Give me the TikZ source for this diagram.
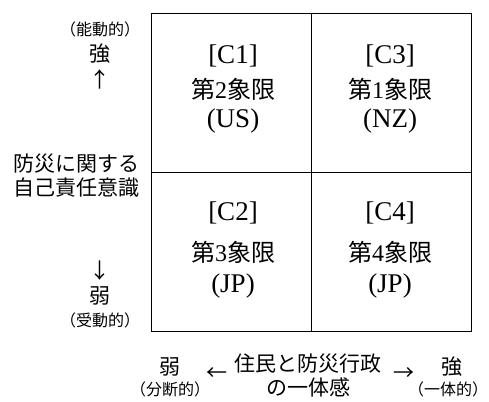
\documentclass[tikz,border=0pt]{standalone}
\usepackage{fontspec}
\setmainfont{Liberation Serif}
\newfontfamily\jp{Noto Sans CJK JP}
\tikzset{
  quad/.style={inner sep=0pt, font=\fontsize{27}{27}\selectfont},
  quadj/.style={inner sep=0pt, font=\fontsize{24}{24}\selectfont},
  lab/.style={inner sep=0pt, font=\jp\fontsize{21}{21}\selectfont},
  small/.style={inner sep=0pt, font=\jp\fontsize{16}{16}\selectfont},
  cell/.style={draw=black, line width=0.9pt, minimum width=160pt, minimum height=159pt, inner sep=0pt, outer sep=0pt}
}
\begin{document}
\begin{tikzpicture}[x=1pt,y=-1pt]
\useasboundingbox (0,0) rectangle (489,401);
% cells
\node[cell, anchor=north west] (q2) at (151,13) {};
\node[cell, anchor=north west] (q1) at (311,13) {};
\node[cell, anchor=north west] (q3) at (151,172) {};
\node[cell, anchor=north west] (q4) at (311,172) {};
% quadrant texts
\node[quad] (c1) at (233,56) {[C1]};
\node[quadj] (c1b) at (233,89) {{\jp 第}2{\jp 象限}};
\node[quad] (c1c) at (233,121) {(US)};
\node[quad] (c3) at (390,56) {[C3]};
\node[quadj] (c3b) at (390,89) {{\jp 第}1{\jp 象限}};
\node[quad] (c3c) at (390,121) {(NZ)};
\node[quad] (c2) at (233,213) {[C2]};
\node[quadj] (c2b) at (233,252) {{\jp 第}3{\jp 象限}};
\node[quad] (c2c) at (233,286) {(JP)};
\node[quad] (c4) at (390,213) {[C4]};
\node[quadj] (c4b) at (390,252) {{\jp 第}4{\jp 象限}};
\node[quad] (c4c) at (390,286) {(JP)};
% left axis
\node[small] (nodo) at (100,29) {（能動的）};
\node[lab] (kyo) at (100,54) {強};
\node[lab] (up) at (100,79) {↑};
\node[lab] (ax1) at (76,164) {防災に関する};
\node[lab] (ax2) at (76,188) {自己責任意識};
\node[lab] (down) at (100,271) {↓};
\node[lab] (jaku) at (100,296) {弱};
\node[small] (judo) at (100,320) {（受動的）};
% bottom axis
\node[lab] (bjaku) at (170,367) {弱};
\node[small] (bunda) at (170,389) {（分断的）};
\node[lab] (left) at (217,374) {←};
\node[lab] (bx1) at (308,364) {住民と防災行政};
\node[lab] (bx2) at (308,387) {の一体感};
\node[lab] (right) at (404,374) {→};
\node[lab] (bkyo) at (452,367) {強};
\node[small] (ittai) at (448,389) {（一体的）};
\end{tikzpicture}
\end{document}
